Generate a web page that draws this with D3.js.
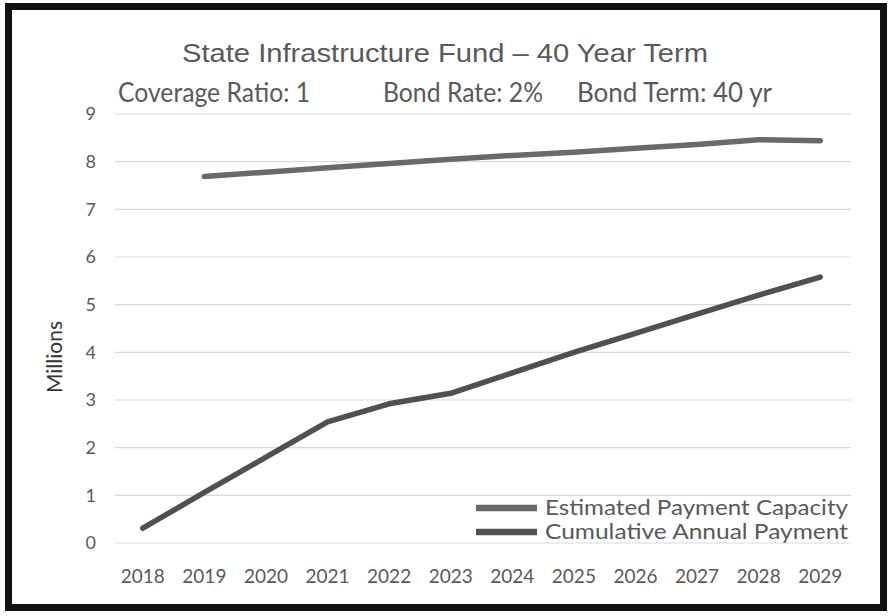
<!DOCTYPE html>
<html>
<head>
<meta charset="utf-8">
<script src="https://cdn.jsdelivr.net/npm/d3@7"></script>
<style>
  html, body { margin: 0; padding: 0; background: #fff; }
  svg { display: block; }
</style>
</head>
<body>
<svg id="chart" width="892" height="616"></svg>
<script>
const years = ["2018","2019","2020","2021","2022","2023","2024","2025","2026","2027","2028","2029"];
const capacity = [null, 7.69, 7.78, 7.87, 7.96, 8.05, 8.13, 8.20, 8.28, 8.36, 8.46, 8.44];
const cumulative = [0.31, 1.06, 1.80, 2.54, 2.92, 3.14, 3.57, 4.00, 4.40, 4.80, 5.20, 5.58];
const yTicks = [0,1,2,3,4,5,6,7,8,9];
const seriesNames = ["Estimated Payment Capacity", "Cumulative Annual Payment"];
const titleText = "State Infrastructure Fund \u2013 40 Year Term";
const subtitleParts = ["Coverage Ratio: 1", "Bond Rate: 2%", "Bond Term: 40 yr"];
const yAxisLabel = "Millions";

const svg = d3.select("#chart");
const textColor = "#595959";
const lineColors = ["#6a6a6a", "#505050"];

// frame
svg.append("rect").attr("x", 8.5).attr("y", 6.5).attr("width", 875).attr("height", 601)
  .attr("fill", "#fff").attr("stroke", "#111").attr("stroke-width", 7);

const x = d3.scaleBand().domain(years).range([112, 851]).padding(0);
const y = d3.scaleLinear().domain([0, 9]).range([543, 114]);
const cx = d => x(d) + x.bandwidth() / 2;

// gridlines
svg.append("g").selectAll("line").data(yTicks).join("line")
  .attr("x1", 115).attr("x2", 851)
  .attr("y1", d => y(d)).attr("y2", d => y(d))
  .attr("stroke", "#d9d9d9").attr("stroke-width", 1.2);

// y tick labels
svg.append("g").selectAll("text").data(yTicks).join("text")
  .attr("x", 96).attr("y", d => y(d)).attr("dy", "0.35em")
  .attr("text-anchor", "end")
  .attr("font-family", "Lato, 'Open Sans', sans-serif").attr("font-size", 18)
  .attr("fill", textColor).text(d => d);

// x tick labels
svg.append("g").selectAll("text").data(years).join("text")
  .attr("x", d => cx(d)).attr("y", 583)
  .attr("text-anchor", "middle")
  .attr("font-family", "Lato, 'Open Sans', sans-serif").attr("font-size", 19)
  .attr("fill", textColor).text(d => d);

// y axis label
svg.append("text")
  .attr("transform", "translate(62,357) rotate(-90)")
  .attr("text-anchor", "middle")
  .attr("font-family", "Lato, 'Open Sans', sans-serif").attr("font-size", 21)
  .attr("fill", "#333").text(yAxisLabel);

// title
svg.append("text").attr("x", 445).attr("y", 62).attr("text-anchor", "middle")
  .attr("font-family", "'Liberation Sans', Arial, sans-serif")
  .attr("font-size", 25.5).attr("fill", textColor)
  .attr("textLength", 526).attr("lengthAdjust", "spacingAndGlyphs")
  .text(titleText);

// subtitle
const subX = [118, 383, 577];
const subW = [192, 160, 195];
svg.append("g").selectAll("text").data(subtitleParts).join("text")
  .attr("x", (d, i) => subX[i]).attr("y", 102)
  .attr("font-family", "Lato, 'Open Sans', sans-serif").attr("font-size", 26)
  .attr("fill", textColor)
  .attr("textLength", (d, i) => subW[i]).attr("lengthAdjust", "spacingAndGlyphs")
  .text(d => d);

// lines
const line = d3.line()
  .defined(d => d.v !== null)
  .x(d => cx(d.year)).y(d => y(d.v));

const seriesData = [capacity, cumulative].map(arr => arr.map((v, i) => ({year: years[i], v})));
svg.append("g").selectAll("path").data(seriesData).join("path")
  .attr("d", d => line(d))
  .attr("fill", "none")
  .attr("stroke", (d, i) => lineColors[i])
  .attr("stroke-width", 5.5)
  .attr("stroke-linejoin", "round")
  .attr("stroke-linecap", "round");

// legend
const legend = svg.append("g");
const legY = [508, 532];
seriesNames.forEach((name, i) => {
  legend.append("line").attr("x1", 476).attr("x2", 537)
    .attr("y1", legY[i]).attr("y2", legY[i])
    .attr("stroke", lineColors[i]).attr("stroke-width", 6.5);
  legend.append("text").attr("x", 545).attr("y", legY[i]).attr("dy", "0.35em")
    .attr("font-family", "Lato, 'Open Sans', sans-serif").attr("font-size", 21)
    .attr("fill", textColor)
    .attr("textLength", 303).attr("lengthAdjust", "spacingAndGlyphs")
    .text(name);
});
</script>
</body>
</html>
